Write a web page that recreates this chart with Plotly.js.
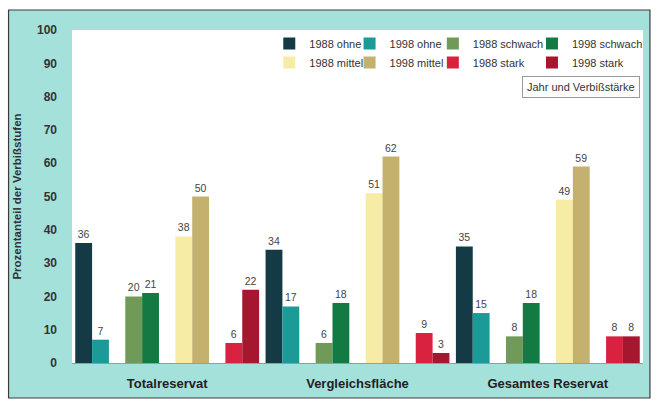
<!DOCTYPE html>
<html>
<head>
<meta charset="utf-8">
<script src="https://cdn.plot.ly/plotly-3.0.1.min.js"></script>
<style>
  html, body { margin: 0; padding: 0; background: #fff; }
  #chart { width: 660px; height: 402px; }
</style>
</head>
<body>
<div id="chart"></div>
<script>
// categories (x axis)
const areas = ['Totalreservat', 'Vergleichsfläche', 'Gesamtes Reservat'];

// percentage per browsing level, 1988 and 1998
const ohne1988 = [36, 34, 35];
const ohne1998 = [7, 17, 15];
const schwach1988 = [20, 6, 8];
const schwach1998 = [21, 18, 18];
const mittel1988 = [38, 51, 49];
const mittel1998 = [50, 62, 59];
const stark1988 = [6, 9, 8];
const stark1998 = [22, 3, 8];

const yTicks = [0, 10, 20, 30, 40, 50, 60, 70, 80, 90, 100];

// bar geometry in category units: pairs of two bars, gap between pairs
const barW = 0.0885;
const pairPitch = 0.263;
const firstOffset = -0.483;

const series = [
  // name, values, colour, pair index, year index, legend
  ['1988 ohne', ohne1988, '#143a45', 0, 0, 'legend'],
  ['1998 ohne', ohne1998, '#1b9a97', 0, 1, 'legend2'],
  ['1988 schwach', schwach1988, '#6f9a58', 1, 0, 'legend3'],
  ['1998 schwach', schwach1998, '#147a44', 1, 1, 'legend4'],
  ['1988 mittel', mittel1988, '#f6eca6', 2, 0, 'legend'],
  ['1998 mittel', mittel1998, '#c4b16e', 2, 1, 'legend2'],
  ['1988 stark', stark1988, '#d8223f', 3, 0, 'legend3'],
  ['1998 stark', stark1998, '#a6172f', 3, 1, 'legend4']
];

const fontFam = 'Liberation Sans, Arial, sans-serif';

const traces = series.map(([name, vals, color, pair, yr, leg]) => ({
  type: 'bar',
  name: name,
  x: areas,
  y: vals,
  text: vals.map(String),
  textposition: 'outside',
  constraintext: 'none',
  cliponaxis: false,
  textfont: { family: fontFam, size: 10.5, color: '#444' },
  marker: { color: color, line: { width: 0 } },
  width: barW,
  offset: firstOffset + pair * pairPitch + yr * barW,
  legend: leg,
  hoverinfo: 'x+y+name'
}));

// plot area in pixels: left 72, right 648, top 30, bottom 363
const px = v => (v - 72) / 576;
const py = v => (363 - v) / 333;

const legendBase = {
  orientation: 'v',
  yanchor: 'top',
  xanchor: 'left',
  bgcolor: 'rgba(0,0,0,0)',
  borderwidth: 0,
  tracegroupgap: 0,
  font: { family: fontFam, size: 11, color: '#333' }
};

const frame = [px(8), py(398), px(655), py(10)];
const outer = [px(-10), py(412), px(670), py(-10)];

const layout = {
  width: 660,
  height: 402,
  margin: { l: 72, r: 12, t: 30, b: 39 },
  paper_bgcolor: '#a5e1db',
  plot_bgcolor: '#ffffff',
  barmode: 'overlay',
  showlegend: true,
  font: { family: fontFam, color: '#333' },
  xaxis: {
    type: 'category',
    range: [-0.5, 2.5],
    showline: true,
    linecolor: '#9a9a9a',
    linewidth: 1,
    ticks: '',
    tickfont: { family: fontFam, size: 13, color: '#222', weight: 'bold' },
    ticklabelstandoff: 8,
    fixedrange: true
  },
  yaxis: {
    range: [0, 100],
    tickvals: yTicks,
    ticktext: yTicks.map(String),
    showgrid: false,
    zeroline: false,
    showline: false,
    ticks: '',
    ticklabelstandoff: 14,
    tickfont: { family: fontFam, size: 12, color: '#333', weight: 'bold' },
    title: {
      text: 'Prozentanteil der Verbißstufen',
      standoff: 12,
      font: { family: fontFam, size: 11.5, color: '#333', weight: 'bold' }
    },
    fixedrange: true
  },
  legend: Object.assign({}, legendBase, { x: px(271), y: py(29) }),
  legend2: Object.assign({}, legendBase, { x: px(352), y: py(29) }),
  legend3: Object.assign({}, legendBase, { x: px(436), y: py(29) }),
  legend4: Object.assign({}, legendBase, { x: px(536), y: py(29) }),
  annotations: [{
    xref: 'paper', yref: 'paper',
    x: px(645), y: py(87),
    xanchor: 'right', yanchor: 'middle',
    text: 'Jahr und Verbißstärke',
    showarrow: false,
    font: { family: fontFam, size: 11, color: '#333' },
    bgcolor: '#ffffff',
    bordercolor: '#9a9a9a',
    borderwidth: 1,
    borderpad: 4
  }],
  shapes: [
    // white margin outside the frame
    {
      type: 'path', xref: 'paper', yref: 'paper', layer: 'above',
      path: `M ${outer[0]} ${outer[1]} H ${outer[2]} V ${outer[3]} H ${outer[0]} Z ` +
            `M ${frame[0]} ${frame[1]} H ${frame[2]} V ${frame[3]} H ${frame[0]} Z`,
      fillrule: 'evenodd',
      fillcolor: '#ffffff',
      line: { width: 0 }
    },
    // frame line
    {
      type: 'rect', xref: 'paper', yref: 'paper', layer: 'above',
      x0: frame[0], y0: frame[1], x1: frame[2], y1: frame[3],
      line: { color: '#3a3a3a', width: 1.2 }
    }
  ]
};

Plotly.newPlot('chart', traces, layout, { displayModeBar: false, staticPlot: true });
</script>
</body>
</html>
